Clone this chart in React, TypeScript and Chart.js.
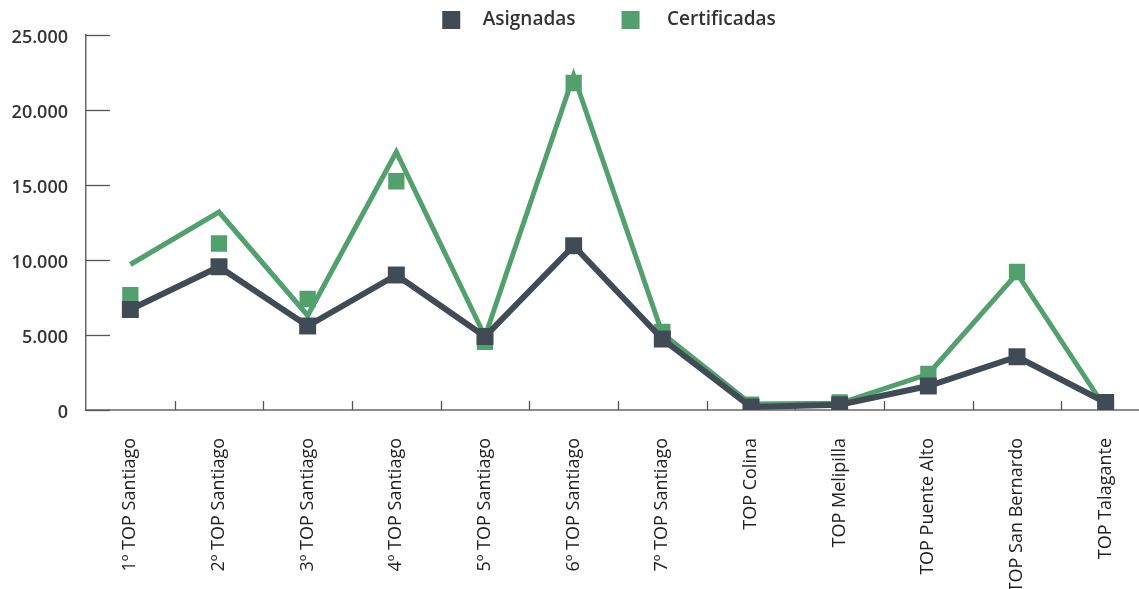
import React, { useEffect, useRef } from 'react';
import { Chart, registerables } from 'chart.js';

Chart.register(...registerables);

const categories = [
  '1º TOP Santiago',
  '2º TOP Santiago',
  '3º TOP Santiago',
  '4º TOP Santiago',
  '5º TOP Santiago',
  '6º TOP Santiago',
  '7º TOP Santiago',
  'TOP Colina',
  'TOP Melipilla',
  'TOP Puente Alto',
  'TOP San Bernardo',
  'TOP Talagante',
];

const asignadas = [6700, 9550, 5600, 9000, 4900, 10950, 4730, 200, 350, 1600, 3550, 500];
const certificadasPoints = [7650, 11100, 7400, 15250, 4550, 21800, 5200, 350, 500, 2400, 9200, 450];
const certificadasLine = [9700, 13200, 6300, 17200, 4900, 22300, 5100, 400, 450, 2400, 9100, 100];

const yMin = 0;
const yMax = 25000;
const yStep = 5000;

const DARK = '#404b56';
const GREEN = '#52a06e';

const formatThousands = (v: number) =>
  String(Math.round(v)).replace(/\B(?=(\d{3})+(?!\d))/g, '.');

function makeLegendBox(color: string, width: number, squareLeft: number, size = 18) {
  const c = document.createElement('canvas');
  c.width = width;
  c.height = size;
  const g = c.getContext('2d');
  if (g) {
    g.fillStyle = color;
    g.fillRect(squareLeft, 0, size, size);
  }
  return c;
}

const innerTicks = {
  id: 'innerTicks',
  beforeDatasetsDraw(chart: any) {
    const { ctx, chartArea, scales } = chart;
    const x = scales.x;
    const y = scales.y;
    ctx.save();
    ctx.strokeStyle = '#555';
    ctx.lineWidth = 1.3;
    y.ticks.forEach((t: any) => {
      const py = Math.round(y.getPixelForValue(t.value)) + 0.5;
      ctx.beginPath();
      ctx.moveTo(chartArea.left, py);
      ctx.lineTo(chartArea.left + 24, py);
      ctx.stroke();
    });
    for (let i = 1; i < categories.length; i++) {
      const px = Math.round((x.getPixelForValue(i - 1) + x.getPixelForValue(i)) / 2) + 0.5;
      ctx.beginPath();
      ctx.moveTo(px, chartArea.bottom);
      ctx.lineTo(px, chartArea.bottom - 9);
      ctx.stroke();
    }
    ctx.restore();
  },
};

const CANVAS_W = 1177;

export default function App() {
  const canvasRef = useRef<HTMLCanvasElement | null>(null);

  useEffect(() => {
    const canvas = canvasRef.current;
    if (!canvas) return;
    Chart.defaults.font.family = "'Open Sans', sans-serif";

    const boxes = [makeLegendBox(DARK, 72, 41), makeLegendBox(GREEN, 72, 36)];

    const chart = new Chart(canvas, {
      type: 'line',
      data: {
        labels: categories,
        datasets: [
          {
            label: 'Asignadas',
            data: asignadas,
            borderColor: DARK,
            backgroundColor: DARK,
            borderWidth: 6,
            pointStyle: 'rect',
            pointRadius: 12,
            pointBackgroundColor: DARK,
            pointBorderWidth: 0,
            tension: 0,
          },
          {
            label: 'Certificadas',
            data: certificadasPoints,
            showLine: false,
            borderColor: GREEN,
            backgroundColor: GREEN,
            pointStyle: 'rect',
            pointRadius: 11.5,
            pointBackgroundColor: GREEN,
            pointBorderWidth: 0,
          },
          {
            label: 'Certificadas (línea)',
            data: certificadasLine,
            borderColor: GREEN,
            backgroundColor: GREEN,
            borderWidth: 5,
            pointRadius: 0,
            tension: 0,
          },
        ],
      },
      options: {
        responsive: false,
        animation: false,
        layout: { padding: { left: 0, right: 0, top: 0, bottom: 0 } },
        plugins: {
          tooltip: { enabled: false },
          legend: {
            display: true,
            position: 'top',
            align: 'center',
            maxHeight: 35,
            labels: {
              font: { size: 19, weight: '600' },
              color: '#333',
              padding: 10,
              usePointStyle: true,
              pointStyleWidth: 72,
              generateLabels: (ch: any) => {
                const items = Chart.defaults.plugins.legend.labels.generateLabels(ch);
                return items
                  .filter((it: any) => it.datasetIndex !== 2)
                  .map((it: any) => ({ ...it, pointStyle: boxes[it.datasetIndex] }));
              },
            },
          },
        },
        scales: {
          x: {
            type: 'category',
            offset: true,
            grid: { display: false, drawTicks: false },
            border: { display: true, color: '#8c8c8c', width: 2 },
            ticks: {
              autoSkip: false,
              maxRotation: 90,
              minRotation: 90,
              padding: 28,
              color: '#222',
              font: { size: 18, weight: '400' },
            },
            afterFit: (s: any) => {
              s.height = 179;
            },
          },
          y: {
            min: yMin,
            max: yMax,
            position: 'left',
            grid: { display: false, drawTicks: false },
            border: { display: true, color: '#666', width: 1.5 },
            ticks: {
              stepSize: yStep,
              padding: 18,
              labelOffset: 3,
              color: '#333',
              font: { size: 18, weight: '600' },
              callback: (v: any) => formatThousands(Number(v)),
            },
            afterFit: (s: any) => {
              s.width = 86;
            },
          },
          yRight: {
            position: 'right',
            display: true,
            min: yMin,
            max: yMax,
            grid: { display: false, drawTicks: false },
            border: { display: false },
            ticks: { display: false },
            afterFit: (s: any) => {
              s.width = CANVAS_W - 1150;
            },
          },
        },
      },
      plugins: [innerTicks],
    });

    return () => chart.destroy();
  }, []);

  return (
    <div
      style={{
        position: 'absolute',
        left: 0,
        top: 0,
        width: 1139,
        height: 589,
        overflow: 'hidden',
        background: '#fff',
      }}
    >
      <canvas
        ref={canvasRef}
        width={CANVAS_W}
        height={589}
        style={{ display: 'block', width: CANVAS_W, height: 589 }}
      />
    </div>
  );
}
